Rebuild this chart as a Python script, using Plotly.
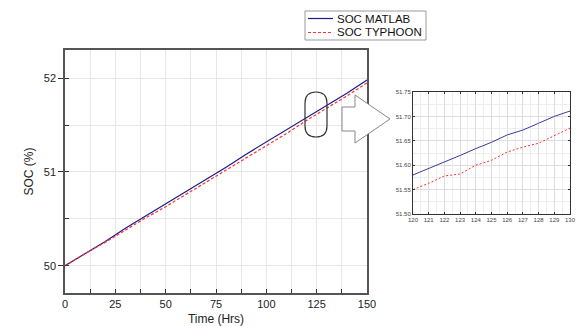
import plotly.graph_objects as go

# Full run, sampled every 10 hours
hours = [0, 10, 20, 30, 40, 50, 60, 70, 80, 90, 100, 110, 120, 130, 140, 150]
soc_matlab = [50.00, 50.13, 50.26, 50.40, 50.53, 50.66, 50.79, 50.92,
              51.05, 51.19, 51.32, 51.45, 51.58, 51.71, 51.84, 51.98]
soc_typhoon = [50.00, 50.13, 50.25, 50.38, 50.51, 50.63, 50.76, 50.89,
               51.02, 51.15, 51.28, 51.41, 51.55, 51.68, 51.81, 51.95]

# Detail window 120-130 h
zoom_hours = [120, 121, 122, 123, 124, 125, 126, 127, 128, 129, 130]
zoom_matlab = [51.580, 51.593, 51.607, 51.620, 51.634, 51.647,
               51.662, 51.672, 51.686, 51.700, 51.711]
zoom_typhoon = [51.550, 51.563, 51.578, 51.582, 51.600, 51.610,
                51.627, 51.637, 51.645, 51.661, 51.676]

series_names = ["SOC MATLAB", "SOC TYPHOON"]

W, H = 577, 326
BLUE = "#1a1a8c"
RED = "#ff3030"
FRAME = "#555555"
GRID = "#e6e6e6"
DASH = "3px,2px"


def px_x(p):
    return p / W


def px_y(p):
    return 1 - p / H


fig = go.Figure()
fig.add_trace(go.Scatter(x=hours, y=soc_matlab, mode="lines", name=series_names[0],
                         line=dict(color=BLUE, width=1.2)))
fig.add_trace(go.Scatter(x=hours, y=soc_typhoon, mode="lines", name=series_names[1],
                         line=dict(color=RED, width=1.2, dash=DASH)))
fig.add_trace(go.Scatter(x=zoom_hours, y=zoom_matlab, mode="lines",
                         line=dict(color="#3a3aa6", width=1), xaxis="x2", yaxis="y2"))
fig.add_trace(go.Scatter(x=zoom_hours, y=zoom_typhoon, mode="lines",
                         line=dict(color=RED, width=1, dash="2px,2px"), xaxis="x2", yaxis="y2"))

main_x = [px_x(65), px_x(367)]
main_y = [px_y(293), px_y(50)]
ins_x = [px_x(413), px_x(570)]
ins_y = [px_y(214), px_y(92)]

font = dict(family="Liberation Sans, Arial", size=11, color="#222222")

fig.update_layout(
    width=W, height=H,
    margin=dict(l=0, r=0, t=0, b=0),
    paper_bgcolor="white", plot_bgcolor="white",
    font=font,
    showlegend=False,
    xaxis=dict(domain=main_x, range=[0, 150], anchor="y",
               tickvals=[0, 25, 50, 75, 100, 125, 150],
               ticks="inside", ticklen=4, tickcolor="#333333",
               minor=dict(dtick=12.5, ticks="inside", ticklen=4, tickcolor="#333333",
                          showgrid=True, gridcolor=GRID),
               showgrid=True, gridcolor=GRID,
               showline=True, linecolor=FRAME, linewidth=1.5, mirror=True,
               zeroline=False, automargin=False,
               title=dict(text="Time (Hrs)", font=dict(size=12), standoff=6)),
    yaxis=dict(domain=main_y, range=[49.71, 52.3], anchor="x",
               tickvals=[50, 51, 52],
               ticks="outside", ticklen=5, tickcolor="#333333",
               minor=dict(dtick=0.5, ticks="inside", ticklen=4, tickcolor="#333333",
                          showgrid=True, gridcolor=GRID),
               showgrid=True, gridcolor=GRID,
               showline=True, linecolor=FRAME, linewidth=1.5, mirror=True,
               zeroline=False, automargin=False,
               title=dict(text="SOC (%)", font=dict(size=12), standoff=8)),
    xaxis2=dict(domain=ins_x, range=[120, 130], anchor="y2",
                tickvals=zoom_hours, ticks="inside", ticklen=2, tickcolor="#333333",
                tickfont=dict(size=6, color="#444444"),
                minor=dict(dtick=0.5, showgrid=True, gridcolor="#eeeeee"),
                showgrid=True, gridcolor="#dddddd",
                showline=True, linecolor="#333333", linewidth=1, mirror="ticks",
                zeroline=False, automargin=False),
    yaxis2=dict(domain=ins_y, range=[51.5, 51.75], anchor="x2",
                tickvals=[51.50, 51.55, 51.60, 51.65, 51.70, 51.75],
                tickformat=".2f", ticks="inside", ticklen=2, tickcolor="#333333",
                tickfont=dict(size=6, color="#444444"),
                minor=dict(dtick=0.025, showgrid=True, gridcolor="#eeeeee"),
                showgrid=True, gridcolor="#dddddd",
                showline=True, linecolor="#333333", linewidth=1, mirror="ticks",
                zeroline=False, automargin=False),
)

# Compact legend box above the main panel
fig.add_shape(type="rect", xref="paper", yref="paper",
              x0=px_x(305), x1=px_x(426), y0=px_y(40), y1=px_y(11),
              line=dict(color="#999999", width=1), fillcolor="white")
legend_rows = [(series_names[0], BLUE, "solid", 18.5), (series_names[1], RED, DASH, 32.5)]
for label, color, dash, yy in legend_rows:
    fig.add_shape(type="line", xref="paper", yref="paper",
                  x0=px_x(308), x1=px_x(333), y0=px_y(yy), y1=px_y(yy),
                  line=dict(color=color, width=1.2, dash=dash))
    fig.add_annotation(xref="paper", yref="paper", x=px_x(336), y=px_y(yy),
                       xanchor="left", yanchor="middle", showarrow=False, borderpad=0,
                       text=label, font=dict(size=11.5, color="#111111"))

# Highlight marker around the 125 h region
fig.add_shape(type="path", xref="paper", yref="paper",
              path=(f"M {px_x(305)},{px_y(103)} "
                    f"Q {px_x(305)},{px_y(92)} {px_x(316)},{px_y(92)} "
                    f"Q {px_x(327)},{px_y(92)} {px_x(327)},{px_y(103)} "
                    f"L {px_x(327)},{px_y(126)} "
                    f"Q {px_x(327)},{px_y(137)} {px_x(316)},{px_y(137)} "
                    f"Q {px_x(305)},{px_y(137)} {px_x(305)},{px_y(126)} Z"),
              line=dict(color="#333333", width=1.2), fillcolor="rgba(0,0,0,0)")

# Hollow arrow pointing to the detail window
arrow = [(342, 107), (355, 107), (355, 95), (390, 119), (355, 143), (355, 131), (342, 131)]
path = "M " + " L ".join(f"{px_x(a)},{px_y(b)}" for a, b in arrow) + " Z"
fig.add_shape(type="path", xref="paper", yref="paper", path=path,
              line=dict(color="#888888", width=1), fillcolor="white")

fig.write_html("out.html")
